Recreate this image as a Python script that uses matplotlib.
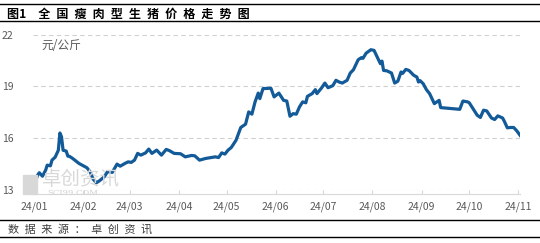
import numpy as np
import matplotlib
matplotlib.use('Agg')
import matplotlib.pyplot as plt
from matplotlib.patches import Rectangle

plt.rcParams['font.family'] = ['Noto Sans CJK SC', 'DejaVu Sans']

# 数据：2024年1月1日起的天数, 价格(元/公斤)
days = [0, 2, 3, 5, 7, 8, 10, 11, 13, 15, 16, 17, 18, 19, 20, 21, 22, 24, 28, 33,
        35, 37, 39, 41, 44, 46, 49, 52, 54, 57, 59, 61, 63, 65, 67, 70, 72, 74, 77, 80,
        83, 85, 88, 92, 95, 99, 101, 104, 108, 114, 116, 118, 120, 122, 124, 127, 130, 133, 135, 137,
        139, 141, 142, 144, 149, 151, 154, 157, 159, 161, 163, 165, 167, 169, 171, 172, 175, 177, 178, 181,
        183, 185, 188, 190, 192, 194, 197, 199, 201, 204, 206, 207, 209, 212, 214, 216, 218, 219, 220, 222,
        225, 227, 229, 231, 232, 234, 236, 239, 241, 242, 243, 245, 247, 249, 252, 255, 256, 268, 270, 273,
        274, 276, 277, 279, 281, 283, 285, 288, 290, 292, 295, 296, 298, 300, 302, 304, 306]
prices = [13.35, 13.87, 14.0, 13.8, 14.15, 14.44, 14.4, 14.73, 14.9, 15.3, 16.3, 16.08, 15.3, 15.28, 15.25, 14.96, 14.95, 14.83, 14.54, 14.29,
          14.06, 13.62, 13.42, 13.54, 13.77, 14.06, 14.02, 14.5, 14.38, 14.54, 14.63, 14.6, 14.73, 15.12, 15.02, 15.15, 15.37, 15.12, 15.31, 15.02,
          15.35, 15.28, 15.12, 15.1, 14.92, 15.0, 14.98, 14.73, 14.83, 14.92, 14.88, 15.15, 15.08, 15.31, 15.46, 15.88, 16.62, 16.81, 17.52, 17.39,
          18.1, 18.61, 18.29, 18.87, 18.89, 18.39, 18.61, 18.19, 18.15, 17.27, 17.42, 17.39, 17.81, 18.1, 18.05, 18.42, 18.58, 18.81, 18.58, 18.92,
          19.19, 18.92, 19.04, 19.35, 19.25, 19.19, 19.35, 19.77, 19.96, 20.54, 20.66, 20.62, 20.92, 21.12, 21.08, 20.69, 20.31, 20.46, 19.92, 19.9,
          19.77, 19.19, 19.3, 19.83, 19.75, 19.98, 19.92, 19.64, 19.54, 19.25, 19.33, 19.15, 18.81, 18.58, 18.0, 18.19, 17.77, 17.67, 18.15, 18.1,
          18.05, 17.77, 17.62, 17.33, 17.2, 17.62, 17.58, 17.17, 17.08, 17.29, 17.17, 17.0, 16.6, 16.62, 16.62, 16.42, 16.17]
yticks = [13, 16, 19, 22]
month_labels = ['24/01', '24/02', '24/03', '24/04', '24/05', '24/06',
                '24/07', '24/08', '24/09', '24/10', '24/11']

dates = np.datetime64('2024-01-01') + np.array(days).astype('timedelta64[D]')
month_ticks = np.arange('2024-01', '2024-12', dtype='datetime64[M]').astype('datetime64[D]')

fig = plt.figure(figsize=(5.4, 2.43), dpi=100)
ax = fig.add_axes([0.061, 0.218, 0.902, 0.640])

ax.plot(dates, prices, color='#135a98', lw=2.3, solid_joinstyle='round', zorder=3)

ax.set_ylim(13, 22)
ax.set_yticks(yticks)
ax.set_xlim(np.datetime64('2023-12-31'), np.datetime64('2024-11-02'))
ax.set_xticks(month_ticks)
ax.set_xticklabels(month_labels)

ax.grid(axis='y', ls=(0, (4, 3)), color='#d0d0d0', lw=0.8)
for s in ['top', 'right', 'left']:
    ax.spines[s].set_visible(False)
ax.spines['bottom'].set_color('#d9d9d9')
ax.spines['bottom'].set_position(('outward', 3))
ax.tick_params(axis='x', direction='in', length=3, color='#d9d9d9', labelsize=7.5,
               labelcolor='#595959', pad=5)
ax.tick_params(axis='y', length=0, labelsize=7.5, labelcolor='#595959', pad=14)

ax.text(0.018, 0.93, '元/公斤', transform=ax.transAxes, fontsize=8.5, color='#595959',
        va='center', ha='left')

# 水印
fig.text(0.078, 0.262, '卓创资讯', fontsize=14, color='#d8d8d8', va='center', ha='left',
         zorder=1)
fig.text(0.088, 0.205, 'SCI99.COM', fontsize=6, color='#d0d0d0', va='center', ha='left',
         family='DejaVu Serif', zorder=1)
for (x0, y0) in [(0.043, 0.2), (0.057, 0.2), (0.043, 0.242), (0.057, 0.242)]:
    fig.add_artist(Rectangle((x0, y0), 0.012, 0.038, transform=fig.transFigure,
                             color='#d8d8d8', zorder=1))

# 标题与来源（字间距较宽）
gap = '\u2002'
title = '图1' + gap * 2 + gap.join('全国瘦肉型生猪价格走势图')
source = gap.join('数据来源：卓创资讯')
fig.text(0.013, 0.942, title, fontsize=8.7, fontweight='bold',
         va='center', ha='left', color='black')
fig.text(0.015, 0.054, source, fontsize=8, va='center', ha='left',
         color='#404040')
for y in [0.984, 0.913, 0.095, 0.024]:
    fig.add_artist(plt.Line2D([0.0, 1.0], [y, y], transform=fig.transFigure,
                              color='black', lw=1.0))

fig.savefig('out.png', dpi=100)
